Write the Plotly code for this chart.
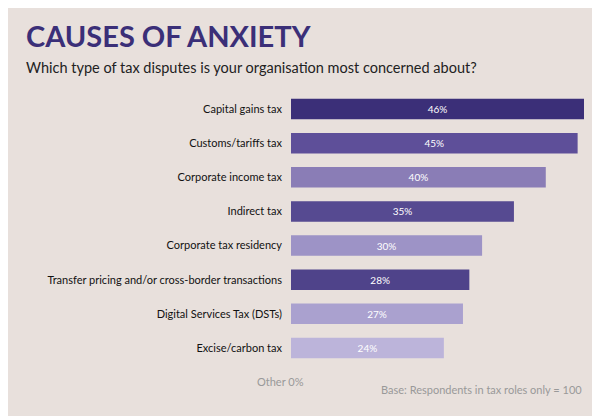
import plotly.graph_objects as go

categories = ["Capital gains tax", "Customs/tariffs tax", "Corporate income tax", "Indirect tax",
              "Corporate tax residency", "Transfer pricing and/or cross-border transactions",
              "Digital Services Tax (DSTs)", "Excise/carbon tax"]
values = [46, 45, 40, 35, 30, 28, 27, 24]
colors = ["#3b2f78", "#5e4f99", "#8a7db6", "#564a91", "#9d93c6", "#4f438a", "#aaa1cf", "#bcb4da"]

W, H = 600, 416
fig = go.Figure(go.Bar(
    y=categories, x=values, orientation="h", marker=dict(color=colors, line=dict(width=0)),
    text=[f"{v}%" for v in values], textposition="inside", insidetextanchor="middle",
    textfont=dict(color="white", size=10, family="Lato"), width=0.6, hoverinfo="skip"))
fig.update_layout(
    width=W, height=H, margin=dict(l=0, r=0, t=0, b=0),
    paper_bgcolor="#e8e0dc", plot_bgcolor="#e8e0dc", showlegend=False,
    xaxis=dict(domain=[283/W, 576/W], range=[0, 46], visible=False, fixedrange=True, automargin=False),
    yaxis=dict(domain=[1-357/H, 1-84/H], autorange="reversed", showgrid=False, zeroline=False,
               automargin=False,
               tickfont=dict(size=11, color="#111", family="Lato"), ticks="", ticklabelstandoff=8),
    annotations=[
        dict(text="<b>CAUSES OF ANXIETY</b>", x=16/W, y=1-8/H, xref="paper", yref="paper",
             xanchor="left", yanchor="top", showarrow=False,
             font=dict(size=29, color="#3b2f78", family="Lato")),
        dict(text="Which type of tax disputes is your organisation most concerned about?", x=16/W, y=1-49/H,
             xref="paper", yref="paper", xanchor="left", yanchor="top", showarrow=False,
             font=dict(size=14.5, color="#222", family="Lato")),
        dict(text="Other 0%", x=272/W, y=1-373/H, xref="paper", yref="paper", xanchor="center",
             yanchor="middle", showarrow=False, font=dict(size=11, color="#999", family="Lato")),
        dict(text="Base: Respondents in tax roles only = 100", x=576/W, y=1-381/H, xref="paper", yref="paper",
             xanchor="right", yanchor="middle", showarrow=False, font=dict(size=11, color="#999", family="Lato")),
    ])
fig.write_html("out.html", config={"displayModeBar": False})
